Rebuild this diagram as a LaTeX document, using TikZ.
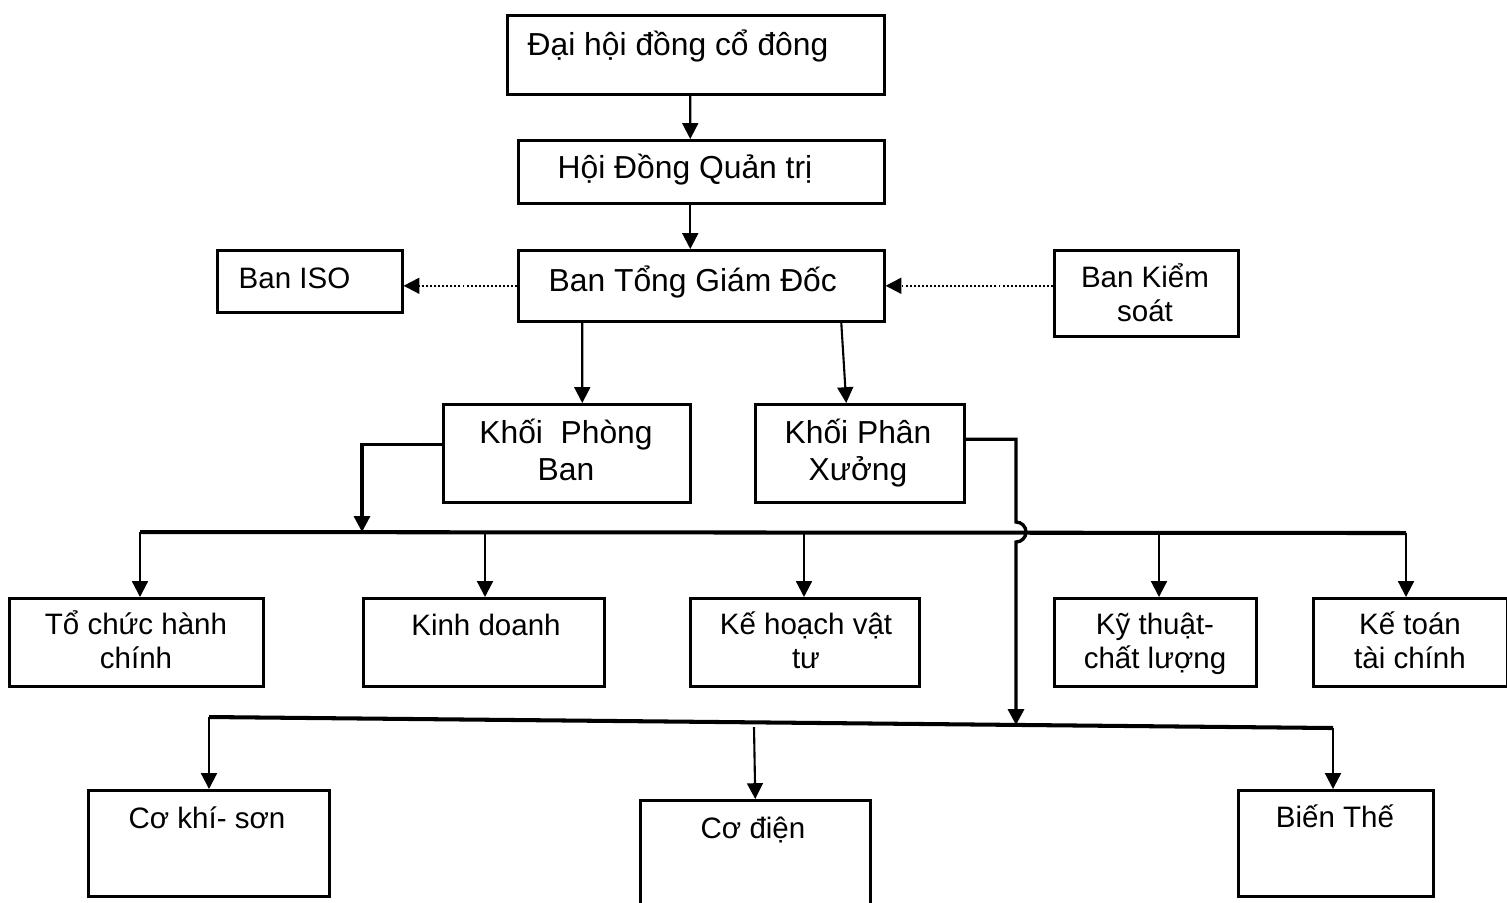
\documentclass[tikz,border=0pt]{standalone}
\usepackage{fontspec}
\setmainfont{Liberation Sans}
\usetikzlibrary{arrows.meta}

\begin{document}
\begin{tikzpicture}[
  box/.style={draw, line width=0.72pt, anchor=north west, inner sep=0pt},
  big/.style={font=\fontsize{9.05}{10.5}\selectfont, inner sep=0pt, anchor=base, align=center},
  small/.style={font=\fontsize{8.4}{9.5}\selectfont, inner sep=0pt, anchor=base, align=center},
  tip/.style={-{Triangle[length=4.5pt,width=4.5pt]}},
  arr/.style={tip, line width=0.6pt},
  dots/.style={dash pattern=on 0.55pt off 0.6pt},
  bus/.style={line width=1.15pt}
]
\useasboundingbox (0,0) rectangle (15.07,-9.02);
\clip (0,0) rectangle (15.07,-9.02);

\node[box, minimum width=3.77cm, minimum height=0.79cm] (dhcd) at (5.06,-0.14) {};
\node[box, minimum width=3.66cm, minimum height=0.63cm] (hdqt) at (5.17,-1.39) {};
\node[box, minimum width=3.66cm, minimum height=0.71cm] (btgd) at (5.17,-2.49) {};
\node[box, minimum width=1.85cm, minimum height=0.62cm] (iso) at (2.16,-2.49) {};
\node[box, minimum width=1.84cm, minimum height=0.86cm] (bks) at (10.53,-2.49) {};
\node[box, minimum width=2.47cm, minimum height=0.98cm] (kpb) at (4.42,-4.03) {};
\node[box, minimum width=2.09cm, minimum height=0.98cm] (kpx) at (7.54,-4.03) {};
\node[box, minimum width=2.54cm, minimum height=0.88cm] (tchc) at (0.08,-5.97) {};
\node[box, minimum width=2.41cm, minimum height=0.88cm] (kd) at (3.62,-5.97) {};
\node[box, minimum width=2.29cm, minimum height=0.88cm] (khvt) at (6.89,-5.97) {};
\node[box, minimum width=2.02cm, minimum height=0.88cm] (ktcl) at (10.53,-5.97) {};
\node[box, minimum width=1.94cm, minimum height=0.88cm] (ktt) at (13.12,-5.97) {};
\node[box, minimum width=2.41cm, minimum height=1.06cm] (cks) at (0.87,-7.89) {};
\node[box, minimum width=2.30cm, minimum height=1.20cm] (cd) at (6.39,-7.99) {};
\node[box, minimum width=1.95cm, minimum height=1.06cm] (bt) at (12.37,-7.89) {};

\node[big, anchor=base west] (t-dhcd) at (5.27,-0.55) {Đại hội đồng cổ đông};
\node[big, anchor=base west] (t-hdqt) at (5.57,-1.78) {Hội Đồng Quản trị};
\node[big, anchor=base west] (t-btgd) at (5.48,-2.91) {Ban Tổng Giám Đốc};
\node[small, anchor=base west] (t-iso) at (2.38,-2.88) {Ban ISO};
\node[small] (t-bks) at (11.45,-3.21) {Ban Kiểm\\soát};
\node[big] (t-kpb) at (5.66,-4.80) {Khối\ \ Phòng\\Ban};
\node[big] (t-kpx) at (8.58,-4.80) {Khối Phân\\Xưởng};
\node[small] (t-tchc) at (1.36,-6.68) {Tổ chức hành\\chính};
\node[small] (t-kd) at (4.86,-6.35) {Kinh doanh};
\node[small] (t-khvt) at (8.06,-6.68) {Kế hoạch vật\\tư};
\node[small] (t-ktcl) at (11.55,-6.68) {Kỹ thuật-\\chất lượng};
\node[small] (t-ktt) at (14.10,-6.68) {Kế toán\\tài chính};
\node[small] (t-cks) at (2.07,-8.28) {Cơ khí- sơn};
\node[small] (t-cd) at (7.53,-8.38) {Cơ điện};
\node[small] (t-bt) at (13.35,-8.27) {Biến Thế};

\draw[arr] ([xshift=-0.055cm]dhcd.south) -- ([xshift=-0.11cm]hdqt.north);
\draw[arr] ([xshift=-0.11cm]hdqt.south) -- ([xshift=-0.11cm]btgd.north);
\draw[arr, dots] (btgd.west) -- (iso.east |- btgd.west);
\draw[arr, dots] (bks.west |- btgd.east) -- (btgd.east);
\draw[arr] ([xshift=-1.19cm]btgd.south) -- ([xshift=0.155cm]kpb.north);
\draw[arr] ([xshift=1.40cm]btgd.south) -- ([xshift=-0.135cm]kpx.north);

\coordinate (b1l) at (1.40,-5.32);
\coordinate (b1r) at (14.06,-5.33);
\coordinate (b1-kpb) at (3.62,-5.32);
\coordinate (b1-kd) at (4.85,-5.32);
\coordinate (b1-khvt) at (8.04,-5.32);
\coordinate (b1-ktcl) at (11.59,-5.33);
\draw[bus] (b1l) -- (b1r);
\draw[tip, line width=0.9pt] ([yshift=0.09cm]kpb.west) -| (b1-kpb);
\draw[arr] (b1l) -- (b1l |- tchc.north);
\draw[arr] (b1-kd) -- (b1-kd |- kd.north);
\draw[arr] (b1-khvt) -- (b1-khvt |- khvt.north);
\draw[arr] (b1-ktcl) -- (b1-ktcl |- ktcl.north);
\draw[arr] (b1r) -- (b1r |- ktt.north);

\coordinate (b2l) at (2.09,-7.17);
\coordinate (b2r) at (13.33,-7.28);
\coordinate (b2-kpx) at (10.16,-7.25);
\coordinate (cd-in) at (7.54,-7.27);
\draw[bus] (b2l) -- (b2r);
\draw[tip, line width=0.95pt] ([yshift=0.14cm]kpx.east) -| (10.16,-5.22)
  arc[start angle=90, end angle=-90, radius=0.1] -- (b2-kpx);
\draw[arr] (b2l) -- (b2l |- cks.north);
\draw[arr] (cd-in) -- (cd.north);
\draw[arr] (b2r) -- (b2r |- bt.north);
\end{tikzpicture}
\end{document}
